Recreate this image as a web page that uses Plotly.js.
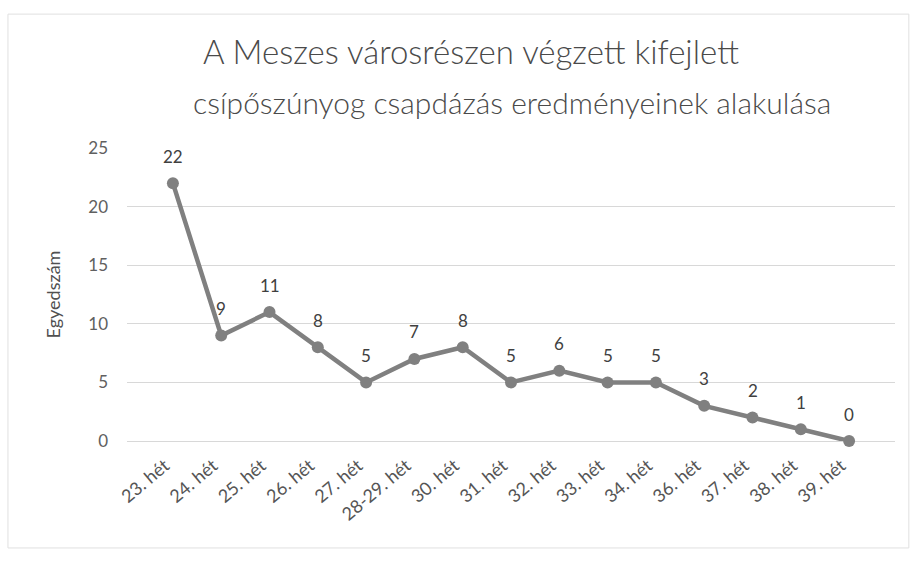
<!DOCTYPE html>
<html>
<head>
<meta charset="utf-8">
<script src="https://cdn.plot.ly/plotly-3.0.1.min.js"></script>
<style>html,body{margin:0;padding:0;background:#fff;}#chart{width:911px;height:567px;}</style>
</head>
<body>
<div id="chart"></div>
<script>
const weeks = ["23. hét","24. hét","25. hét","26. hét","27. hét","28-29. hét","30. hét","31. hét","32. hét","33. hét","34. hét","36. hét","37. hét","38. hét","39. hét"];
const counts = [22, 9, 11, 8, 5, 7, 8, 5, 6, 5, 5, 3, 2, 1, 0];
const yTicks = [0, 5, 10, 15, 20, 25];
const titleLine1 = "A Meszes városrészen végzett kifejlett";
const titleLine2 = "csípőszúnyog csapdázás eredményeinek alakulása";

const FONT = "Lato, 'Open Sans', sans-serif";

const labelAnnotations = weeks.map((w, i) => ({
  x: w, y: counts[i], xref: "x", yref: "y",
  text: String(counts[i]),
  showarrow: false,
  yshift: 27,
  font: {family: FONT, size: 17, color: "#404040"}
}));

Plotly.newPlot("chart", [{
  type: "scatter",
  mode: "lines+markers",
  x: weeks,
  y: counts,
  line: {color: "#808080", width: 4.5},
  marker: {color: "#808080", size: 12},
  cliponaxis: false,
  hoverinfo: "x+y"
}], {
  width: 911,
  height: 567,
  margin: {l: 127, r: 16, t: 148, b: 126},
  paper_bgcolor: "#ffffff",
  plot_bgcolor: "#ffffff",
  showlegend: false,
  title: {
    text: titleLine1,
    xref: "container", yref: "container",
    x: 0.517, xanchor: "center",
    y: 0.908, yanchor: "middle",
    font: {family: FONT, size: 33, weight: 300, color: "#4a4a4a"}
  },
  annotations: labelAnnotations.concat([{
    xref: "paper", yref: "paper",
    x: 0.501, y: 1.157, xanchor: "center", yanchor: "middle",
    text: titleLine2, showarrow: false,
    font: {family: FONT, size: 30, weight: 300, color: "#4a4a4a"}
  }]),
  xaxis: {
    type: "category",
    tickangle: -40,
    tickfont: {family: FONT, size: 18, color: "#555555"},
    showgrid: false,
    showline: false,
    zeroline: false,
    ticks: "",
    ticklabelstandoff: 10,
    ticklabelshift: -8
  },
  yaxis: {
    range: [0, 25],
    tickvals: yTicks,
    ticktext: yTicks.map(String),
    tickfont: {family: FONT, size: 17, color: "#606060"},
    gridcolor: "#d8d8d8",
    gridwidth: 1,
    zeroline: true,
    zerolinecolor: "#d8d8d8",
    showline: false,
    ticks: "",
    ticklabelstandoff: 18,
    title: {text: "Egyedszám", font: {family: FONT, size: 18, color: "#505050"}, standoff: 22}
  },
  shapes: [{
    type: "rect", xref: "paper", yref: "paper",
    x0: -0.155, x1: 1.018, y0: -0.365, y1: 1.457,
    line: {color: "#e0e0e0", width: 1}
  }]
}, {displayModeBar: false});
</script>
</body>
</html>
